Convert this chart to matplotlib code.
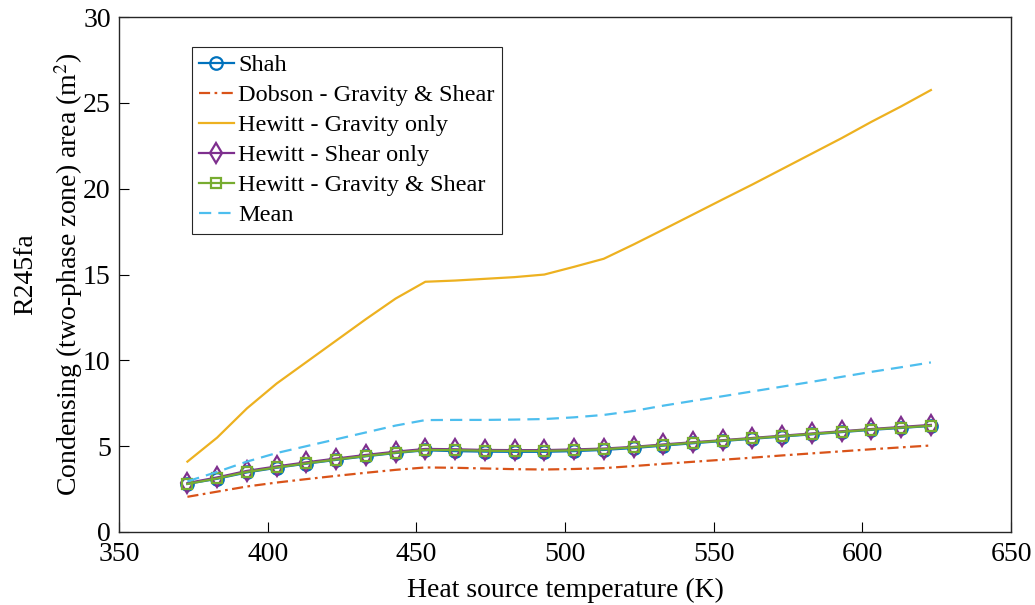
import matplotlib
matplotlib.use("Agg")
import matplotlib.pyplot as plt

temps = [373, 383, 393, 403, 413, 423, 433, 443, 453, 463, 473, 483, 493,
         503, 513, 523, 533, 543, 553, 563, 573, 583, 593, 603, 613, 623]

shah = [2.80, 3.10, 3.47, 3.74, 3.98, 4.20, 4.41, 4.60, 4.76, 4.71, 4.68, 4.67, 4.67,
        4.71, 4.78, 4.89, 5.03, 5.17, 5.30, 5.43, 5.56, 5.69, 5.82, 5.95, 6.06, 6.18]
dobson = [2.05, 2.35, 2.65, 2.88, 3.08, 3.27, 3.45, 3.62, 3.76, 3.74, 3.70, 3.66, 3.64,
          3.67, 3.72, 3.84, 3.97, 4.09, 4.21, 4.33, 4.46, 4.58, 4.70, 4.82, 4.93, 5.04]
hewitt_gravity = [4.10, 5.50, 7.20, 8.65, 9.90, 11.15, 12.40, 13.60, 14.58, 14.65, 14.75, 14.85, 15.00,
                  15.45, 15.92, 16.75, 17.62, 18.50, 19.38, 20.25, 21.15, 22.05, 22.95, 23.90, 24.80, 25.75]
hewitt_shear = [2.85, 3.18, 3.56, 3.82, 4.06, 4.28, 4.49, 4.68, 4.84, 4.82, 4.78, 4.77, 4.77,
                4.81, 4.86, 4.96, 5.10, 5.23, 5.35, 5.48, 5.61, 5.74, 5.87, 6.00, 6.12, 6.24]
hewitt_gs = [2.80, 3.12, 3.50, 3.76, 4.00, 4.22, 4.43, 4.62, 4.78, 4.77, 4.73, 4.72, 4.72,
             4.76, 4.82, 4.93, 5.06, 5.20, 5.32, 5.45, 5.58, 5.71, 5.84, 5.97, 6.08, 6.19]
mean_vals = [2.95, 3.50, 4.10, 4.60, 5.00, 5.40, 5.80, 6.20, 6.52, 6.53, 6.53, 6.55, 6.58,
             6.68, 6.82, 7.05, 7.36, 7.64, 7.91, 8.19, 8.47, 8.75, 9.04, 9.33, 9.60, 9.88]

labels = ["Shah", "Dobson - Gravity & Shear", "Hewitt - Gravity only",
          "Hewitt - Shear only", "Hewitt - Gravity & Shear", "Mean"]
xticks = [350, 400, 450, 500, 550, 600, 650]
yticks = [0, 5, 10, 15, 20, 25, 30]

plt.rcParams['font.family'] = ['Liberation Serif', 'DejaVu Serif']
plt.rcParams['mathtext.fontset'] = 'stix'

fig = plt.figure(figsize=(10.35, 6.05), dpi=100)
ax = fig.add_axes([0.115, 0.1207, 0.862, 0.851])

lw = 1.6
ax.plot(temps, shah, color='#0072BD', lw=lw, marker='o', ms=9, mfc='none',
        mew=1.6, label=labels[0])
ax.plot(temps, dobson, color='#D95319', lw=lw, ls=(0, (5, 2, 1.2, 2)), label=labels[1])
ax.plot(temps, hewitt_gravity, color='#EDB120', lw=lw, label=labels[2])
ax.plot(temps, hewitt_shear, color='#7E2F8E', lw=lw, marker='d', ms=10.5, mfc='none',
        mew=1.6, label=labels[3])
ax.plot(temps, hewitt_gs, color='#77AC30', lw=lw, marker='s', ms=7.2, mfc='none',
        mew=1.6, label=labels[4])
ax.plot(temps, mean_vals, color='#4DBEEE', lw=lw, ls=(0, (5.5, 3.2)), label=labels[5])

ax.set_xlim(350, 650)
ax.set_ylim(0, 30)
ax.set_xticks(xticks)
ax.set_yticks(yticks)
ax.tick_params(axis='both', direction='in', labelsize=20, length=7, width=0.8,
               top=False, right=False)
ax.tick_params(axis='x', pad=7)
ax.tick_params(axis='y', pad=6)
for s in ax.spines.values():
    s.set_linewidth(1.0)
    s.set_color('#262626')

ax.set_xlabel("Heat source temperature (K)", fontsize=20, labelpad=8)
ax.set_ylabel("R245fa\nCondensing (two-phase zone) area (m$^2$)", fontsize=20,
              labelpad=-1.5, linespacing=1.55)

leg = ax.legend(loc='upper left', bbox_to_anchor=(0.082, 0.942), fontsize=17.5,
                frameon=True, fancybox=False, edgecolor='#262626', framealpha=1,
                handlelength=1.4, handletextpad=0.2, borderpad=0.3, labelspacing=0.33,
                borderaxespad=0)
leg.get_frame().set_linewidth(0.8)

fig.savefig("out.png", dpi=100)
